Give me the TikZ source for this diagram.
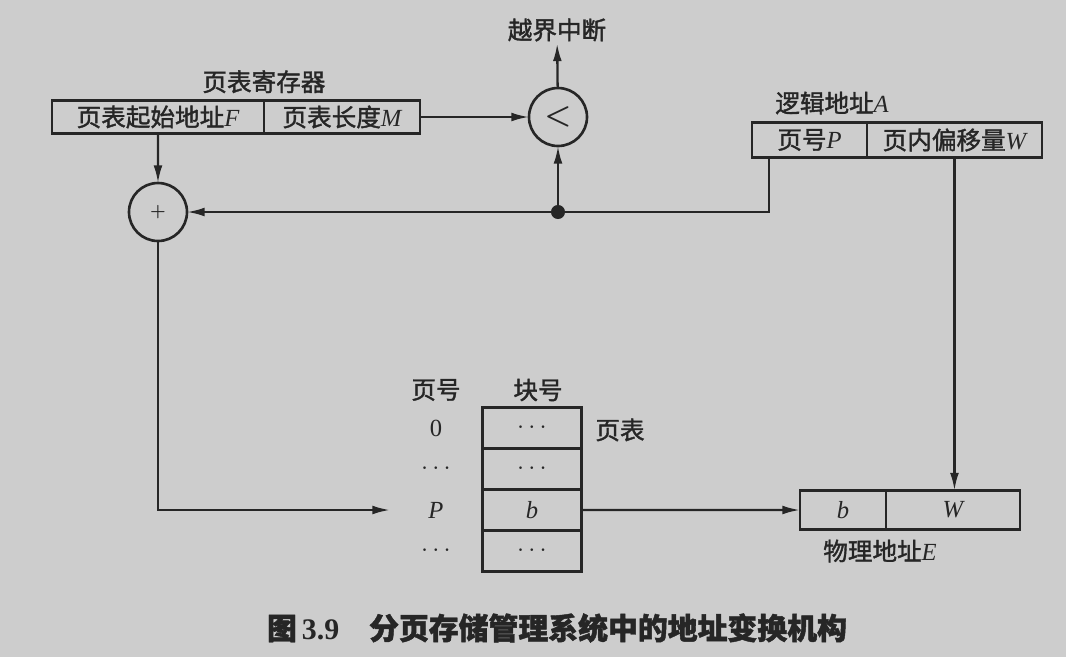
\documentclass[tikz,border=0pt]{standalone}
\usepackage{fontspec}
\setmainfont{Liberation Serif}
\newfontfamily\cjk[FakeBold=1.5]{Noto Sans CJK SC}
\usetikzlibrary{arrows.meta,positioning,calc}
\definecolor{Paper}{HTML}{CDCDCD}
\definecolor{Ink}{HTML}{262626}
\newcommand{\lv}[1]{{\rmfamily\itshape #1}}
\tikzset{
 field/.style={draw=Ink, line width=1.5pt, minimum height=0.66cm, inner sep=2pt, outer sep=0pt, font=\cjk\fontsize{14}{16}\selectfont, text=Ink},
 cell/.style={field, minimum width=1.98cm, minimum height=0.82cm},
 opcircle/.style={circle, draw=Ink, line width=1.5pt, minimum size=1.16cm, inner sep=0pt, outer sep=0pt, text=Ink},
 lbl/.style={font=\cjk\fontsize{14}{16}\selectfont, text=Ink, inner sep=1pt},
 arrow/.style={-{Latex[length=10pt,width=5pt]}, line width=1.3pt, draw=Ink},
 wire/.style={line width=1.3pt, draw=Ink}
}

\begin{document}
\begin{tikzpicture}[x=0.02cm,y=-0.02cm]
\path[fill=Paper] (0,0) rectangle (1066,657);
% page table register
\node[field, minimum width=4.24cm, anchor=west] (start) at (52,117) {页表起始地址\lv{F}};
\node[field, minimum width=3.12cm, right=0pt of start] (len) {页表长度\lv{M}};
\node[lbl, above=3pt of start.north east] (reglbl) {页表寄存器};
% comparator and adder
\node[opcircle, font=\fontsize{16}{16}\selectfont\boldmath] (cmp) at (558,117) {$<$};
\node[opcircle, font=\boldmath] (add) at (158,212) {$+$};
\node[lbl] (intr) at (557,30) {越界中断};
% logical address
\node[field, minimum width=2.3cm, minimum height=0.7cm, anchor=west] (pno) at (752,140) {页号\lv{P}};
\node[field, minimum width=3.5cm, minimum height=0.7cm, right=0pt of pno] (off) {页内偏移量\lv{W}};
\node[lbl] (loglbl) at (832,103) {逻辑地址\lv{A}};
% page table
\node[lbl] (hpno) at (436,390) {页号};
\node[lbl] (hblk) at (538,390) {块号};
\node[cell] (r0) at (532,428) {$\cdots$};
\node[cell, below=0pt of r0] (r1) {$\cdots$};
\node[cell, below=0pt of r1] (rp) {\lv{b}};
\node[cell, below=0pt of rp] (r3) {$\cdots$};
\node[lbl] (n0) at (436,428) {\rmfamily 0};
\node[lbl] (n1) at (436,469) {$\cdots$};
\node[lbl] (np) at (436,510) {\lv{P}};
\node[lbl] (n3) at (436,551) {$\cdots$};
\node[lbl] (ptlbl) at (620,430) {页表};
% physical address
\node[field, minimum width=1.72cm, minimum height=0.78cm, anchor=west] (pb) at (800,510) {\lv{b}};
\node[field, minimum width=2.68cm, minimum height=0.78cm, right=0pt of pb] (pw) {\lv{W}};
\node[lbl] (phylbl) at (880,551) {物理地址\lv{E}};
% connectors
\coordinate (ptap) at ($(pno.south west)+(17,0)$);
\coordinate (jn) at (558,212);
\coordinate (pin) at (390,510);
\draw[arrow] (start) -- (add);
\draw[arrow] (len) -- (cmp);
\draw[arrow] (cmp) -- (intr);
\draw[arrow] (ptap) |- (add);
\draw[arrow] (jn) -- (cmp);
\fill[Ink] (jn) circle (4pt);
\draw[arrow] (off.south) -- (off.south |- pw.north);
\draw[arrow] (add) |- (pin);
\draw[arrow] (rp) -- (pb);
% caption
\node[font=\cjk\bfseries\fontsize{17}{19}\selectfont, text=Ink] (cap) at (557,628) {图\,{\rmfamily\bfseries 3.9}\quad 分页存储管理系统中的地址变换机构};
\end{tikzpicture}
\end{document}
